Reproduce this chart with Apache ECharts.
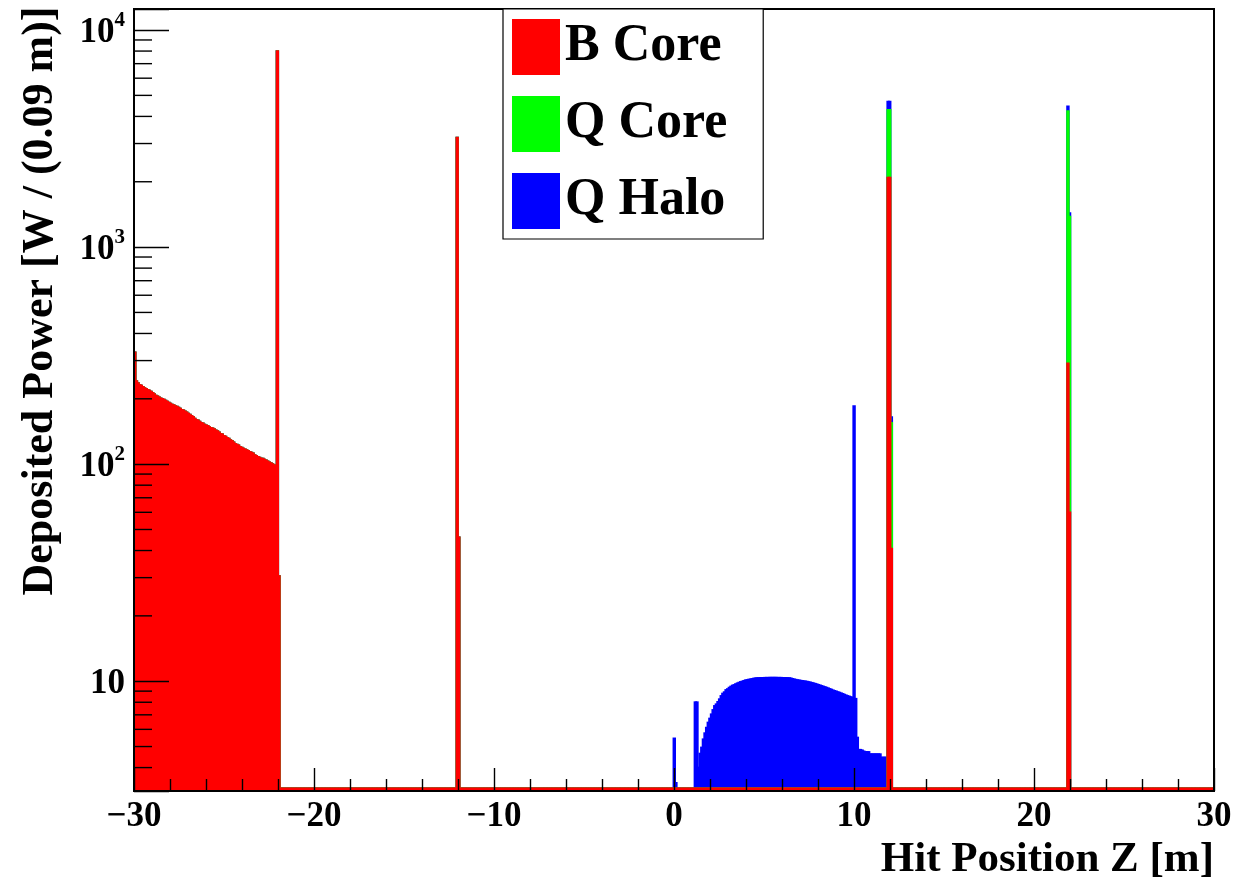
<!DOCTYPE html>
<html>
<head>
<meta charset="utf-8">
<title>Deposited Power vs Hit Position</title>
<script src="https://cdn.jsdelivr.net/npm/echarts@6/dist/echarts.min.js"></script>
<style>
  html, body { margin: 0; padding: 0; background: #ffffff; }
  #chart { width: 1236px; height: 881px; }
</style>
</head>
<body>
<div id="chart"></div>
<script>
// Histogram binning along the beam line
const Z_MIN = -30;
const Z_MAX = 30;
const BIN_WIDTH = 0.09;
const N_BINS = 667;

// Vertical (log) range and tick values
const Y_MIN = 3.12;
const Y_MAX = 12500;
const X_TICK_STEP = 10;
const Y_MINOR_TICKS = [4, 5, 6, 7, 8, 9,
  20, 30, 40, 50, 60, 70, 80, 90,
  200, 300, 400, 500, 600, 700, 800, 900,
  2000, 3000, 4000, 5000, 6000, 7000, 8000, 9000];

const SERIES_NAMES = ['B Core', 'Q Core', 'Q Halo'];

// Deposited power per bin [W / 0.09 m], as runs: [first bin index, values...]
const bCoreRuns = [
  [0, [327,
    241, 236, 232, 230, 227, 224, 222, 220, 218, 216,
    213, 210, 207, 205, 203, 201, 200, 198, 196, 194,
    192, 190, 188, 187, 185, 184, 182, 180, 178, 177,
    175, 173, 171, 169, 167, 165, 162, 160, 159, 157,
    155, 154, 152, 151, 150, 148, 147, 146, 145, 143,
    142, 140, 138, 137, 135, 134, 132, 131, 129, 128,
    126, 124, 123, 122, 120, 119, 118, 117, 116, 115,
    114, 113, 112, 110, 109, 108, 107, 106, 106, 105,
    104, 103, 102, 101, 100, 99, 98,
    8000, 30.5]],
  [199, [3190, 46]],
  [465, [2090, 2090, 40.8]],
  [576, [291, 60]]
];

const qCoreRuns = [
  [465, [2200, 2200, 114]],
  [576, [3940, 1320]]
];

const qHaloRuns = [
  [333, [5.45, 3.4]],
  [346, [
    8.0, 8.0, 4.0, 4.64, 4.95, 5.40, 5.76, 6.11, 6.45, 6.73,
    7.04, 7.37, 7.69, 7.83, 8.03, 8.26, 8.55, 8.77, 8.90, 9.11,
    9.20, 9.34, 9.45, 9.55, 9.61, 9.70, 9.78, 9.85, 9.92, 9.97,
    10.03, 10.10, 10.13, 10.17, 10.20, 10.24, 10.28, 10.31, 10.33, 10.34,
    10.35, 10.36, 10.36, 10.37, 10.37, 10.37, 10.38, 10.38, 10.38, 10.38,
    10.38, 10.37, 10.37, 10.37, 10.36, 10.36, 10.35, 10.34, 10.33, 10.31,
    10.25, 10.20, 10.16, 10.12, 10.09, 10.06, 10.03, 10.00, 9.98, 9.95,
    9.91, 9.87, 9.83, 9.78, 9.73, 9.68, 9.62, 9.57, 9.51, 9.45,
    9.40, 9.34, 9.28, 9.21, 9.15, 9.08, 9.02, 8.97, 8.91, 8.86,
    8.80, 8.74, 8.67, 8.61, 8.55, 8.50, 8.45, 8.40, 184.8, 8.30,
    5.50, 4.83, 4.83, 4.80, 4.75, 4.72, 4.72, 4.72, 4.61, 4.61,
    4.61, 4.61, 4.61, 4.61, 4.61, 4.45, 4.45, 4.45, 4.45, 390,
    390, 10]],
  [576, [213, 55]]
];

// ---- build the stacked histogram ----
function binsFromRuns(runs) {
  const out = new Array(N_BINS).fill(0);
  runs.forEach(function (run) {
    run[1].forEach(function (v, i) { out[run[0] + i] = v; });
  });
  return out;
}
const bCore = binsFromRuns(bCoreRuns);
const qCore = binsFromRuns(qCoreRuns);
const qHalo = binsFromRuns(qHaloRuns);

// cumulative tops: B, B+Q, B+Q+H (each drawn from the floor, later ones on top)
const topB = bCore.slice();
const topBQ = bCore.map(function (v, i) { return v + qCore[i]; });
const topAll = topBQ.map(function (v, i) { return v + qHalo[i]; });

function histData(tops) {
  return tops.map(function (t, k) {
    return [Z_MIN + k * BIN_WIDTH, Z_MIN + (k + 1) * BIN_WIDTH, t];
  });
}

const FONT = '"Liberation Serif", "Times New Roman", serif';
const FLOOR_PX = 2.5;
const EDGE_W = 1.8;

function renderBin(params, api) {
  const cs = params.coordSys;
  const bottom = cs.y + cs.height;
  const x0 = api.coord([api.value(0), Y_MAX])[0];
  const x1 = api.coord([api.value(1), Y_MAX])[0];
  const v = api.value(2);
  let top = v > 0 ? api.coord([api.value(0), v])[1] : bottom;
  top = Math.min(top, bottom - FLOOR_PX);
  const c = api.visual('color');
  return {
    type: 'rect',
    shape: { x: x0, y: top, width: x1 - x0, height: bottom - top },
    style: { fill: c, stroke: c, lineWidth: EDGE_W }
  };
}

function renderMinorTick(params, api) {
  const p = api.coord([api.value(0), api.value(1)]);
  return {
    type: 'line',
    shape: { x1: p[0], y1: p[1], x2: p[0] + 18, y2: p[1] },
    style: { stroke: '#000', lineWidth: 1.4 }
  };
}

function histSeries(name, color, tops) {
  return {
    name: name,
    type: 'custom',
    renderItem: renderBin,
    clip: true,
    silent: true,
    itemStyle: { color: color },
    encode: { x: [0, 1], y: 2 },
    data: histData(tops),
    z: 2
  };
}

const chart = echarts.init(document.getElementById('chart'), null, { renderer: 'canvas' });

chart.setOption({
  animation: false,
  backgroundColor: '#ffffff',
  grid: {
    left: 134, right: 22, top: 9, bottom: 89,
    show: true, borderColor: '#000', borderWidth: 2,
    backgroundColor: 'transparent', z: 10
  },
  legend: {
    data: SERIES_NAMES,
    orient: 'vertical',
    left: 503, top: 9,
    itemWidth: 48, itemHeight: 56, itemGap: 21, itemTextGap: 17,
    icon: 'rect',
    padding: [10, 36, 10, 9],
    borderColor: '#000', borderWidth: 1.2,
    backgroundColor: '#ffffff',
    selectedMode: false,
    z: 12,
    textStyle: { fontFamily: FONT, fontWeight: 'bold', fontSize: 52, color: '#000', lineHeight: 56 }
  },
  xAxis: {
    type: 'value',
    min: Z_MIN, max: Z_MAX, interval: X_TICK_STEP,
    z: 10,
    axisLine: { show: true, onZero: false, lineStyle: { color: '#000', width: 2 } },
    axisTick: { show: true, inside: true, length: 23, lineStyle: { color: '#000', width: 1.4 } },
    minorTick: { show: true, splitNumber: 5, length: 12, lineStyle: { color: '#000', width: 1.4 } },
    splitLine: { show: false },
    axisLabel: {
      margin: 8,
      fontFamily: FONT, fontWeight: 'bold', fontSize: 35, color: '#000',
      showMinLabel: true, showMaxLabel: true,
      formatter: function (v) { return v < 0 ? '\u2212' + Math.abs(v) : String(v); }
    },
    name: 'Hit Position Z [m]',
    nameLocation: 'end',
    nameGap: 0,
    nameTextStyle: {
      fontFamily: FONT, fontWeight: 'bold', fontSize: 43, color: '#000',
      align: 'right', verticalAlign: 'top', padding: [47, 0, 0, 0]
    }
  },
  yAxis: {
    type: 'log',
    logBase: 10,
    min: Y_MIN, max: Y_MAX,
    z: 10,
    axisLine: { show: true, onZero: false, lineStyle: { color: '#000', width: 2 } },
    axisTick: { show: true, inside: true, length: 35, lineStyle: { color: '#000', width: 1.4 } },
    splitLine: { show: false },
    axisLabel: {
      margin: 9,
      color: '#000',
      formatter: function (v) {
        const e = Math.log10(v);
        const n = Math.round(e);
        if (Math.abs(e - n) > 1e-6) return '';
        return n === 1 ? '{b|10}' : '{b|10}{s|' + n + '}';
      },
      rich: {
        b: { fontFamily: FONT, fontWeight: 'bold', fontSize: 35, color: '#000', lineHeight: 40, verticalAlign: 'bottom' },
        s: { fontFamily: FONT, fontWeight: 'bold', fontSize: 21, color: '#000', lineHeight: 22, verticalAlign: 'top' }
      }
    },
    name: 'Deposited Power [W / (0.09 m)]',
    nameLocation: 'middle',
    nameRotate: 90,
    nameGap: 71,
    nameTextStyle: {
      fontFamily: FONT, fontWeight: 'bold', fontSize: 44, color: '#000',
      padding: [0, 0, 0, 198]
    }
  },
  series: [
    histSeries('Q Halo', '#0000ff', topAll),
    histSeries('Q Core', '#00ff00', topBQ),
    histSeries('B Core', '#ff0000', topB),
    {
      name: 'y minor ticks',
      type: 'custom',
      renderItem: renderMinorTick,
      silent: true,
      encode: { x: 0, y: 1 },
      data: Y_MINOR_TICKS.map(function (v) { return [Z_MIN, v]; }),
      z: 11
    }
  ]
});
</script>
</body>
</html>
